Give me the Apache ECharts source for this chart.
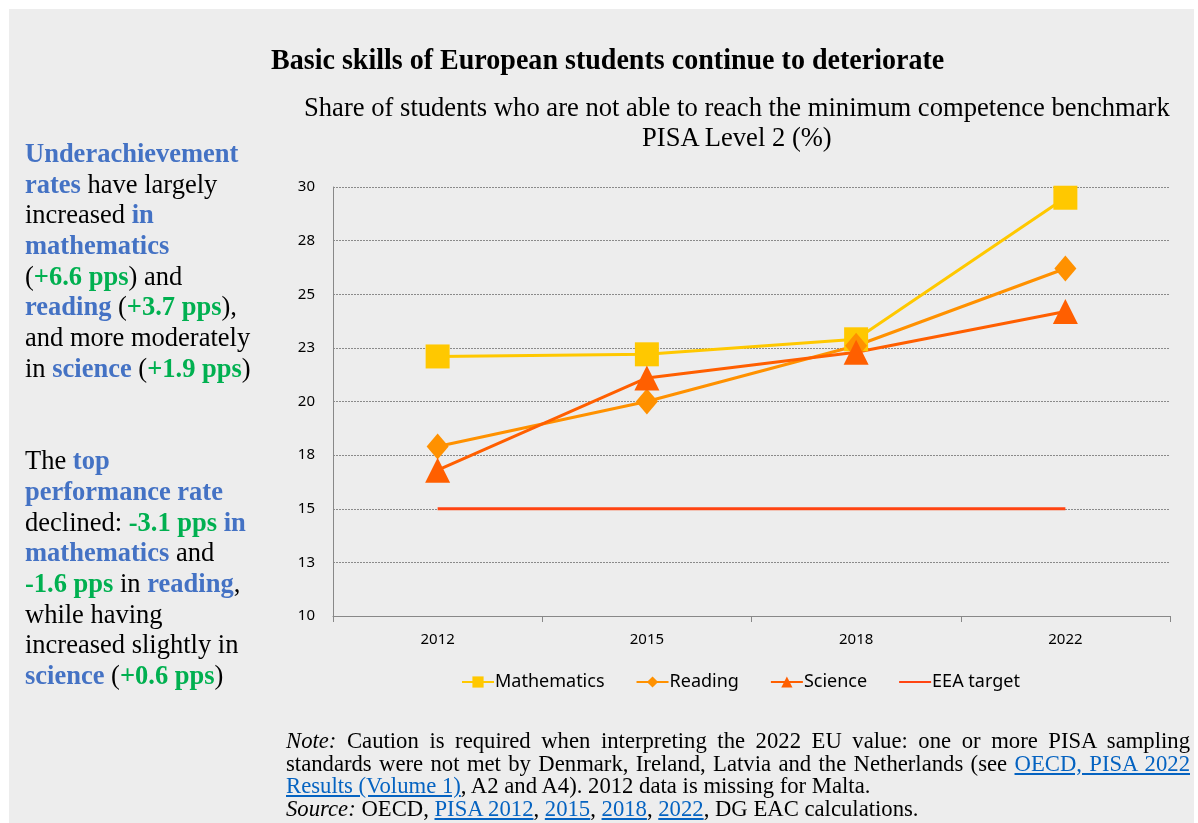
<!DOCTYPE html>
<html>
<head>
<meta charset="utf-8">
<script src="https://cdn.jsdelivr.net/npm/echarts@6/dist/echarts.min.js"></script>
<style>
  html, body { margin: 0; padding: 0; background: #fff; }
  #panel { position: absolute; left: 9px; top: 9px; width: 1185px; height: 814px; background: #ededed; overflow: hidden; }
  #chart { position: absolute; left: 0; top: 0; width: 1198px; height: 823px; }
  .serif { font-family: "Liberation Serif", "Times New Roman", serif; color: #000; }
  .fit { position: absolute; white-space: nowrap; transform-origin: left top; }
  #side { position: absolute; left: 25px; top: 138px; font-size: 26.5px; line-height: 30.65px; white-space: nowrap; }
  .b { color: #4472c4; font-weight: bold; }
  .g { color: #00b050; font-weight: bold; }
  #note { position: absolute; left: 286px; top: 730px; width: 904px; font-size: 22.7px; line-height: 22.7px; }
  #note .ln { text-align: justify; text-align-last: justify; white-space: nowrap; }
  #note .last { text-align: left; text-align-last: left; }
  #note a { color: #0563c1; text-decoration: underline; }
</style>
</head>
<body>
<div id="panel"></div>
<div id="chart"></div>
<div id="title" class="serif fit" style="left:271px;top:42px;font-size:30px;font-weight:bold;" data-w="673">Basic skills of European students continue to deteriorate</div>
<div id="sub1" class="serif fit" style="left:304px;top:92px;font-size:27px;" data-w="866">Share of students who are not able to reach the minimum competence benchmark</div>
<div id="sub2" class="serif fit" style="left:642px;top:122px;font-size:27px;" data-w="190">PISA Level 2 (%)</div>
<div id="side" class="serif">
  <span class="b">Underachievement</span><br>
  <span class="b">rates</span> have largely<br>
  increased <span class="b">in</span><br>
  <span class="b">mathematics</span><br>
  (<span class="g">+6.6 pps</span>) and<br>
  <span class="b">reading</span> (<span class="g">+3.7 pps</span>),<br>
  and more moderately<br>
  in <span class="b">science</span> (<span class="g">+1.9 pps</span>)<br>
  <div style="height:62px"></div>
  The <span class="b">top</span><br>
  <span class="b">performance rate</span><br>
  declined: <span class="g">-3.1 pps</span> <span class="b">in</span><br>
  <span class="b">mathematics</span> and<br>
  <span class="g">-1.6 pps</span> in <span class="b">reading</span>,<br>
  while having<br>
  increased slightly in<br>
  <span class="b">science</span> (<span class="g">+0.6 pps</span>)
</div>
<div id="note" class="serif">
  <div class="ln"><i>Note:</i> Caution is required when interpreting the 2022 EU value: one or more PISA sampling</div>
  <div class="ln">standards were not met by Denmark, Ireland, Latvia and the Netherlands (see <a>OECD, PISA 2022</a></div>
  <div class="ln last"><a>Results (Volume 1)</a>, A2 and A4). 2012 data is missing for Malta.</div>
  <div class="ln last"><i>Source:</i> OECD, <a>PISA 2012</a>, <a>2015</a>, <a>2018</a>, <a>2022</a>, DG EAC calculations.</div>
</div>
<script>
  const years = ["2012", "2015", "2018", "2022"];
  const mathematics = [22.1, 22.2, 22.9, 29.5];
  const reading = [17.9, 20.0, 22.6, 26.2];
  const science = [16.8, 21.1, 22.3, 24.2];
  const eeaTarget = [15, 15, 15, 15];

  // squeeze the serif headings to their width in the picture
  document.querySelectorAll(".fit").forEach((el) => {
    const w = Number(el.dataset.w);
    el.style.transform = `scaleX(${w / el.scrollWidth})`;
  });

  const chart = echarts.init(document.getElementById("chart"));
  const axisFont = { fontFamily: "Noto Sans", fontSize: 15, color: "#000" };

  const lineSeries = (name, data, color, symbol, size) => ({
    name,
    type: "line",
    data,
    symbol,
    symbolSize: size,
    lineStyle: { width: 3, color },
    itemStyle: { color },
    z: 3,
  });

  chart.setOption({
    animation: false,
    grid: { left: 333, right: 28, top: 187, bottom: 207 },
    legend: {
      top: 668,
      left: 456,
      itemWidth: 32,
      itemHeight: 14,
      itemGap: 31,
      textStyle: { fontFamily: "Noto Sans", fontSize: 18, color: "#000", padding: [0, 0, 0, -4] },
      data: [
        "Mathematics",
        "Reading",
        "Science",
        { name: "EEA target", itemStyle: { opacity: 0 } },
      ],
    },
    xAxis: {
      type: "category",
      data: years,
      boundaryGap: true,
      axisLine: { lineStyle: { color: "#888", width: 1 } },
      axisTick: { show: true, length: 6, lineStyle: { color: "#888" } },
      axisLabel: { ...axisFont, margin: 16 },
    },
    yAxis: {
      type: "value",
      min: 10,
      max: 30,
      interval: 2.5,
      axisLine: { show: true, lineStyle: { color: "#888", width: 1 } },
      axisTick: { show: false },
      axisLabel: { ...axisFont, margin: 18, formatter: (v) => String(Math.round(v)) },
      splitLine: { lineStyle: { color: "#8a8a8a", type: [2, 1], width: 1 } },
    },
    series: [
      lineSeries("Mathematics", mathematics, "#ffc800", "rect", 24),
      lineSeries("Reading", reading, "#ff9100", "diamond", [22, 26]),
      lineSeries("Science", science, "#ff5f00", "triangle", 25),
      {
        name: "EEA target",
        type: "line",
        data: eeaTarget,
        symbol: "none",
        lineStyle: { width: 3, color: "#ff4412" },
        itemStyle: { color: "#ff4412" },
        z: 2,
      },
    ],
  });
</script>
</body>
</html>
